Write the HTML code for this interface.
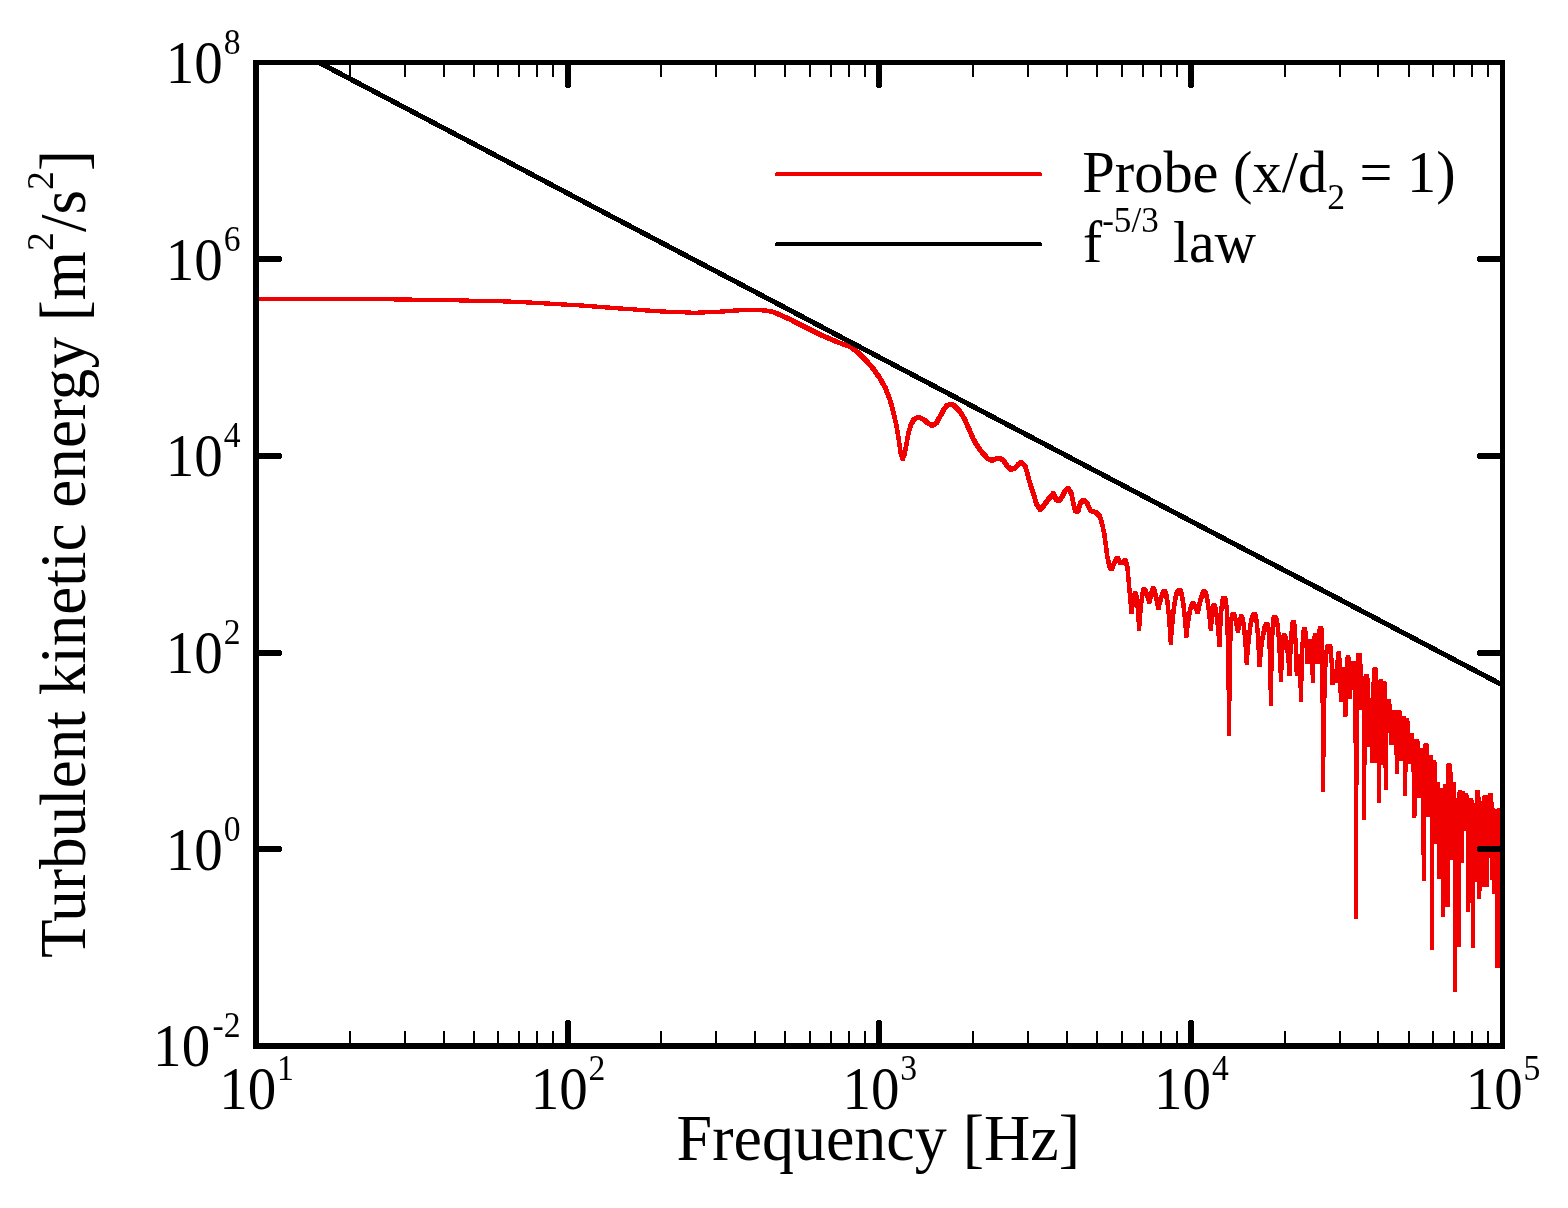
<!DOCTYPE html>
<html lang="en"><head><meta charset="utf-8"><title>Turbulent kinetic energy spectrum</title>
<style>html,body{margin:0;padding:0;background:#fff}body{width:1568px;height:1208px;overflow:hidden}svg{display:block}text{font-family:'Liberation Serif', serif;fill:#000}</style>
</head><body>
<svg width="1568" height="1208" viewBox="0 0 1568 1208" role="img" aria-label="Turbulent kinetic energy spectrum">
<rect x="0" y="0" width="1568" height="1208" fill="#fff"/>
<defs><clipPath id="plot"><rect x="253" y="60" width="1252" height="989"/></clipPath></defs>
<g clip-path="url(#plot)" fill="none" stroke-linejoin="round" stroke-linecap="butt" shape-rendering="crispEdges">
<path id="tke" d="M250.0,299.0 L340.0,299.1 L405.6,299.5 L464.3,300.5 L507.7,301.5 L529.3,302.5 L547.0,303.5 L563.8,304.5 L581.6,305.5 L594.4,306.5 L607.0,307.5 L620.0,308.5 L635.0,309.5 L648.3,310.6 L662.4,311.5 L683.1,312.3 L694.7,312.8 L706.3,312.3 L722.9,311.5 L734.5,310.6 L742.8,310.1 L749.5,309.9 L759.4,310.1 L765.2,310.6 L772.7,311.8 L781.0,315.3 L789.3,319.0 L805.8,327.3 L822.4,335.6 L839.0,342.7 L850.6,346.7 L860.0,354.3 L866.4,361.0 L872.8,368.1 L879.1,377.0 L885.5,388.2 L890.0,399.9 L893.2,411.4 L896.4,425.5 L898.9,440.8 L900.8,453.5 L902.7,458.9 L904.6,453.5 L906.6,443.3 L908.5,433.1 L911.0,424.2 L914.2,419.1 L918.7,417.3 L923.1,419.1 L927.6,422.9 L932.1,425.5 L936.5,422.9 L940.4,415.9 L944.2,408.9 L947.4,405.3 L950.6,404.0 L954.4,405.6 L959.5,410.8 L964.6,419.1 L969.1,429.3 L973.5,439.5 L977.3,445.9 L982.4,452.9 L987.6,458.6 L992.0,460.4 L996.5,458.6 L999.7,458.1 L1003.5,460.5 L1007.3,466.3 L1011.1,469.5 L1015.0,468.2 L1018.8,464.0 L1021.2,462.4 L1025.3,466.3 L1027.9,475.5 L1030.4,484.7 L1033.5,493.9 L1036.5,504.1 L1040.1,509.4 L1043.7,505.6 L1048.3,499.5 L1053.4,493.4 L1056.4,500.0 L1059.0,501.2 L1062.6,495.9 L1065.1,490.8 L1068.2,488.5 L1071.2,492.9 L1073.3,503.1 L1075.3,511.0 L1076.8,511.6 L1078.6,509.7 L1080.4,503.1 L1083.5,499.5 L1087.0,503.1 L1090.6,510.8 L1095.7,512.4 L1099.8,516.3 L1102.3,524.5 L1104.4,534.7 L1105.9,545.9 L1107.4,557.1 L1109.5,566.3 L1111.5,569.4 L1114.1,563.3 L1117.1,557.3 L1120.7,563.3 L1125.3,560.2 L1127.3,566.3 L1127.9,572.1 L1128.4,577.9 L1128.9,583.7 L1129.4,589.5 L1129.9,595.2 L1130.4,601.0 L1131.0,606.8 L1131.5,612.6 L1132.0,608.6 L1132.6,604.9 L1133.1,601.6 L1133.7,598.6 L1134.2,596.1 L1134.8,594.2 L1135.3,593.1 L1135.9,594.0 L1136.4,596.4 L1136.9,600.3 L1137.5,605.6 L1138.0,612.4 L1138.6,620.4 L1139.1,629.8 L1139.7,621.3 L1140.3,613.7 L1140.8,607.2 L1141.4,601.7 L1142.0,597.2 L1142.5,593.7 L1143.1,591.2 L1143.7,589.7 L1144.2,589.3 L1144.8,590.0 L1145.4,591.0 L1145.9,592.3 L1146.5,593.7 L1147.1,595.3 L1147.6,596.9 L1148.2,598.7 L1148.8,600.5 L1149.3,602.4 L1149.9,599.8 L1150.4,597.3 L1151.0,595.0 L1151.5,592.8 L1152.1,591.0 L1152.6,589.4 L1153.2,588.4 L1153.7,589.1 L1154.3,590.5 L1154.9,592.3 L1155.4,594.4 L1156.0,596.8 L1156.6,599.4 L1157.1,602.3 L1157.7,605.4 L1158.3,608.8 L1158.8,606.3 L1159.4,603.9 L1160.0,601.7 L1160.6,599.6 L1161.1,597.7 L1161.7,595.9 L1162.3,594.3 L1162.9,592.9 L1163.4,591.8 L1164.0,591.2 L1164.6,591.3 L1165.1,592.0 L1165.7,593.3 L1166.3,595.3 L1166.8,598.1 L1167.4,601.7 L1167.9,606.3 L1168.5,611.7 L1169.1,618.1 L1169.6,625.5 L1170.2,634.0 L1170.8,643.5 L1171.3,635.5 L1171.9,628.3 L1172.5,621.8 L1173.0,616.0 L1173.6,610.9 L1174.2,606.3 L1174.8,602.5 L1175.3,599.2 L1175.9,596.4 L1176.5,594.3 L1177.0,592.6 L1177.6,591.4 L1178.2,590.6 L1178.7,590.2 L1179.3,590.2 L1179.9,590.4 L1180.5,591.1 L1181.1,592.5 L1181.6,594.5 L1182.2,597.2 L1182.8,600.5 L1183.4,604.6 L1184.0,609.5 L1184.6,615.1 L1185.2,621.5 L1185.7,628.6 L1186.3,636.6 L1186.9,631.7 L1187.4,627.1 L1188.0,622.9 L1188.5,619.1 L1189.1,615.7 L1189.6,612.6 L1190.2,610.0 L1190.7,607.7 L1191.3,605.9 L1191.9,604.5 L1192.4,603.6 L1193.0,603.3 L1193.5,603.9 L1194.0,604.7 L1194.6,605.7 L1195.1,606.7 L1195.7,607.8 L1196.2,608.9 L1196.7,610.1 L1197.3,611.3 L1197.8,612.6 L1198.4,609.7 L1199.0,606.9 L1199.5,604.3 L1200.1,601.9 L1200.7,599.6 L1201.3,597.6 L1201.9,595.7 L1202.4,594.1 L1203.0,592.7 L1203.6,591.7 L1204.2,591.2 L1204.7,591.5 L1205.3,592.3 L1205.8,593.7 L1206.4,595.6 L1206.9,598.1 L1207.5,601.1 L1208.1,604.6 L1208.6,608.6 L1209.2,613.1 L1209.7,618.2 L1210.3,623.7 L1210.8,629.8 L1211.4,622.4 L1212.0,616.0 L1212.6,610.8 L1213.2,607.0 L1213.8,605.2 L1214.3,605.6 L1214.9,606.8 L1215.5,608.8 L1216.0,611.6 L1216.6,615.2 L1217.2,619.7 L1217.8,624.9 L1218.3,631.0 L1218.9,637.8 L1219.5,645.5 L1220.0,633.5 L1220.5,623.4 L1221.0,615.1 L1221.5,608.6 L1222.0,603.7 L1222.6,600.5 L1223.1,598.7 L1223.6,598.2 L1223.8,598.2 L1224.0,598.2 L1224.3,598.2 L1224.5,598.2 L1224.8,598.4 L1225.0,598.5 L1225.2,598.9 L1225.5,599.5 L1225.7,600.4 L1226.0,601.6 L1226.2,603.4 L1226.4,605.9 L1226.7,609.2 L1226.9,613.4 L1227.1,618.9 L1227.4,625.7 L1227.6,634.2 L1227.9,644.5 L1228.1,657.0 L1228.3,671.9 L1228.6,689.7 L1228.8,710.5 L1229.1,734.9 L1229.3,713.4 L1229.5,694.9 L1229.7,679.1 L1229.9,665.8 L1230.1,654.6 L1230.3,645.4 L1230.5,637.8 L1230.8,631.7 L1231.0,626.9 L1231.2,623.1 L1231.4,620.3 L1231.6,618.1 L1231.8,616.6 L1232.0,615.6 L1232.2,614.9 L1232.5,614.5 L1232.7,614.3 L1232.9,614.2 L1233.1,614.1 L1233.3,614.1 L1233.5,614.1 L1234.1,615.0 L1234.6,616.5 L1235.2,618.4 L1235.8,620.6 L1236.3,623.1 L1236.9,625.8 L1237.4,628.7 L1238.0,631.7 L1238.5,628.5 L1239.0,625.4 L1239.6,622.7 L1240.1,620.2 L1240.6,618.2 L1241.2,616.9 L1241.7,617.3 L1242.3,618.4 L1242.8,620.4 L1243.4,623.3 L1243.9,627.3 L1244.5,632.4 L1245.0,638.5 L1245.6,645.7 L1246.1,654.1 L1246.7,663.6 L1247.2,656.1 L1247.8,649.2 L1248.4,643.0 L1248.9,637.4 L1249.5,632.5 L1250.0,628.3 L1250.6,624.6 L1251.2,621.6 L1251.7,619.1 L1252.3,617.1 L1252.9,615.7 L1253.4,614.8 L1254.0,614.3 L1254.6,614.1 L1255.1,614.5 L1255.6,615.8 L1256.2,618.3 L1256.7,622.2 L1257.3,627.6 L1257.8,634.5 L1258.3,643.1 L1258.9,653.4 L1259.4,665.5 L1260.0,659.3 L1260.6,653.6 L1261.1,648.4 L1261.7,643.7 L1262.3,639.5 L1262.9,635.8 L1263.5,632.7 L1264.0,630.0 L1264.6,627.8 L1265.2,626.2 L1265.8,625.0 L1266.4,624.3 L1266.9,624.1 L1267.2,624.1 L1267.5,624.3 L1267.8,624.9 L1268.1,625.9 L1268.4,627.7 L1268.6,630.3 L1268.9,634.1 L1269.2,639.0 L1269.5,645.4 L1269.8,653.3 L1270.0,663.0 L1270.3,674.7 L1270.6,688.6 L1270.9,704.7 L1271.1,687.3 L1271.4,672.5 L1271.6,660.0 L1271.9,649.5 L1272.1,641.0 L1272.4,634.1 L1272.6,628.7 L1272.9,624.6 L1273.1,621.6 L1273.4,619.6 L1273.6,618.2 L1273.9,617.5 L1274.1,617.1 L1274.3,617.0 L1274.6,616.9 L1275.2,617.1 L1275.8,617.7 L1276.3,619.1 L1276.9,621.6 L1277.5,625.2 L1278.1,630.2 L1278.7,636.7 L1279.2,644.9 L1279.8,654.9 L1280.4,666.8 L1281.0,680.8 L1281.4,669.5 L1281.8,659.8 L1282.2,651.9 L1282.6,645.5 L1283.0,640.8 L1283.4,637.5 L1283.8,635.7 L1284.2,635.2 L1284.7,635.6 L1285.3,636.8 L1285.8,638.8 L1286.4,641.6 L1286.9,645.2 L1287.4,649.5 L1288.0,654.7 L1288.5,660.6 L1289.1,667.3 L1289.6,674.8 L1290.1,662.2 L1290.5,651.5 L1290.9,642.7 L1291.3,635.5 L1291.8,630.1 L1292.2,626.2 L1292.6,623.7 L1293.0,622.4 L1293.5,622.0 L1293.8,622.4 L1294.2,623.7 L1294.5,626.2 L1294.9,630.1 L1295.2,635.5 L1295.6,642.6 L1295.9,651.4 L1296.3,662.0 L1296.7,674.5 L1297.1,668.2 L1297.6,662.9 L1298.1,658.6 L1298.6,656.2 L1298.9,656.8 L1299.2,658.6 L1299.5,661.8 L1299.8,666.5 L1300.1,672.7 L1300.4,680.5 L1300.7,689.9 L1301.0,700.9 L1301.3,685.4 L1301.6,672.2 L1301.9,661.2 L1302.2,652.1 L1302.5,644.9 L1302.8,639.3 L1303.1,635.2 L1303.4,632.3 L1303.7,630.5 L1304.0,629.5 L1304.3,629.1 L1304.6,629.0 L1305.1,630.3 L1305.6,633.4 L1306.0,638.3 L1306.5,644.7 L1307.0,652.7 L1307.5,662.0 L1308.0,655.7 L1308.5,650.2 L1309.1,645.7 L1309.6,642.2 L1310.1,640.4 L1310.5,641.2 L1310.9,643.6 L1311.3,647.8 L1311.7,653.7 L1312.1,661.3 L1312.5,670.7 L1312.9,681.9 L1313.2,669.8 L1313.5,659.7 L1313.8,651.3 L1314.1,644.7 L1314.4,639.9 L1314.7,636.6 L1315.0,634.8 L1315.3,634.3 L1315.8,636.1 L1316.2,640.2 L1316.7,646.2 L1317.1,653.7 L1317.6,662.7 L1318.0,652.7 L1318.5,644.3 L1318.9,637.5 L1319.4,632.5 L1319.8,629.2 L1320.3,628.0 L1320.4,628.0 L1320.5,628.0 L1320.6,628.0 L1320.7,628.0 L1320.8,628.0 L1320.9,628.1 L1321.0,628.1 L1321.1,628.3 L1321.2,628.5 L1321.3,628.9 L1321.4,629.4 L1321.5,630.2 L1321.6,631.3 L1321.7,632.9 L1321.7,634.9 L1321.8,637.6 L1321.9,641.0 L1322.0,645.3 L1322.1,650.8 L1322.2,657.6 L1322.3,665.9 L1322.4,675.9 L1322.5,688.0 L1322.6,702.5 L1322.7,719.6 L1322.8,739.7 L1322.9,763.2 L1323.0,790.6 L1323.3,765.8 L1323.6,744.4 L1323.8,726.2 L1324.1,710.7 L1324.4,697.6 L1324.7,686.7 L1324.9,677.8 L1325.2,670.4 L1325.5,664.4 L1325.8,659.7 L1326.0,656.0 L1326.3,653.1 L1326.6,650.9 L1326.9,649.3 L1327.1,648.1 L1327.4,647.3 L1327.7,646.8 L1328.0,646.4 L1328.2,646.2 L1328.5,646.1 L1328.8,646.0 L1329.1,646.0 L1329.3,646.0 L1329.6,646.0 L1329.9,646.0 L1330.3,646.9 L1330.7,649.3 L1331.1,653.3 L1331.4,658.7 L1331.8,665.7 L1332.2,674.1 L1332.6,683.9 L1333.1,678.3 L1333.7,673.7 L1334.2,670.6 L1334.8,672.5 L1335.3,675.2 L1335.9,678.3 L1336.5,681.8 L1336.9,672.7 L1337.3,665.0 L1337.8,659.0 L1338.2,654.9 L1338.6,653.1 L1338.9,653.6 L1339.1,655.4 L1339.4,658.7 L1339.7,663.5 L1340.0,670.0 L1340.2,678.2 L1340.5,688.3 L1340.8,700.1 L1341.2,691.5 L1341.6,684.2 L1341.9,678.2 L1342.3,673.5 L1342.7,670.4 L1343.1,669.1 L1343.4,669.6 L1343.7,671.4 L1344.0,674.7 L1344.2,679.5 L1344.5,686.0 L1344.8,694.2 L1345.1,704.1 L1345.4,715.9 L1345.7,702.4 L1345.9,690.9 L1346.2,681.4 L1346.5,673.7 L1346.8,667.6 L1347.0,663.1 L1347.3,660.0 L1347.6,658.1 L1347.8,657.2 L1348.1,657.0 L1348.4,657.8 L1348.6,660.3 L1348.9,664.3 L1349.2,670.1 L1349.5,677.4 L1349.7,686.4 L1350.0,697.0 L1350.5,687.3 L1351.0,679.1 L1351.5,672.4 L1352.1,667.5 L1352.6,664.2 L1353.1,663.0 L1353.2,663.0 L1353.2,663.0 L1353.3,663.0 L1353.4,663.0 L1353.5,663.0 L1353.5,663.0 L1353.6,663.0 L1353.7,663.0 L1353.8,663.0 L1353.8,663.1 L1353.9,663.1 L1354.0,663.2 L1354.1,663.3 L1354.1,663.5 L1354.2,663.7 L1354.3,664.0 L1354.4,664.5 L1354.4,665.1 L1354.5,665.9 L1354.6,667.0 L1354.7,668.3 L1354.8,670.1 L1354.8,672.2 L1354.9,674.9 L1355.0,678.2 L1355.0,682.2 L1355.1,687.1 L1355.2,693.0 L1355.3,700.0 L1355.3,708.3 L1355.4,718.2 L1355.5,729.8 L1355.6,743.3 L1355.6,759.1 L1355.7,777.4 L1355.8,798.4 L1355.9,822.6 L1355.9,850.3 L1356.0,881.9 L1356.1,917.8 L1356.2,880.8 L1356.3,848.2 L1356.4,819.6 L1356.4,794.7 L1356.5,772.9 L1356.6,754.1 L1356.7,737.9 L1356.8,723.9 L1356.9,711.9 L1356.9,701.8 L1357.0,693.2 L1357.1,685.9 L1357.2,679.9 L1357.3,674.8 L1357.4,670.7 L1357.5,667.3 L1357.5,664.5 L1357.6,662.3 L1357.7,660.5 L1357.8,659.1 L1357.9,658.0 L1358.0,657.2 L1358.1,656.5 L1358.1,656.1 L1358.2,655.7 L1358.3,655.5 L1358.4,655.3 L1358.5,655.2 L1358.6,655.1 L1358.7,655.1 L1358.7,655.0 L1358.8,655.0 L1358.9,655.0 L1359.0,655.0 L1359.1,655.0 L1359.2,655.0 L1359.2,655.0 L1359.3,655.0 L1359.4,655.0 L1359.5,655.0 L1359.7,655.3 L1359.9,656.6 L1360.1,659.1 L1360.3,663.0 L1360.6,668.6 L1360.8,675.8 L1361.0,684.8 L1361.2,695.8 L1361.4,708.7 L1361.7,702.3 L1362.0,696.8 L1362.2,692.4 L1362.5,690.0 L1362.6,690.0 L1362.7,690.0 L1362.7,690.0 L1362.8,690.1 L1362.9,690.2 L1363.0,690.5 L1363.0,691.0 L1363.1,691.8 L1363.2,693.0 L1363.3,694.6 L1363.3,696.9 L1363.4,700.0 L1363.5,704.0 L1363.6,709.1 L1363.7,715.6 L1363.7,723.6 L1363.8,733.4 L1363.9,745.2 L1364.0,759.3 L1364.0,776.1 L1364.1,795.7 L1364.2,818.6 L1364.3,793.5 L1364.4,771.9 L1364.5,753.6 L1364.5,738.1 L1364.6,725.2 L1364.7,714.5 L1364.8,705.6 L1364.9,698.5 L1365.0,692.8 L1365.1,688.3 L1365.2,684.8 L1365.2,682.1 L1365.3,680.2 L1365.4,678.7 L1365.5,677.7 L1365.6,677.0 L1365.7,676.6 L1365.8,676.4 L1365.9,676.2 L1366.0,676.1 L1366.0,676.1 L1366.1,676.1 L1366.2,676.1 L1366.3,676.1 L1366.6,676.2 L1366.8,676.6 L1367.1,677.7 L1367.4,679.6 L1367.6,682.5 L1367.9,686.5 L1368.2,692.0 L1368.4,698.9 L1368.7,707.6 L1369.0,718.0 L1369.2,730.5 L1369.5,745.0 L1369.7,733.9 L1369.9,724.4 L1370.1,716.6 L1370.2,710.3 L1370.4,705.6 L1370.6,702.4 L1370.8,700.5 L1371.0,700.0 L1371.1,700.1 L1371.3,700.8 L1371.4,702.3 L1371.5,704.7 L1371.7,708.3 L1371.8,713.2 L1372.0,719.5 L1372.1,727.4 L1372.2,737.0 L1372.4,748.4 L1372.5,761.6 L1372.7,743.8 L1372.8,728.5 L1373.0,715.6 L1373.1,704.8 L1373.3,695.8 L1373.4,688.6 L1373.6,682.9 L1373.8,678.4 L1373.9,675.1 L1374.1,672.7 L1374.2,671.1 L1374.4,670.0 L1374.5,669.5 L1374.7,669.2 L1374.8,669.1 L1375.0,669.1 L1375.1,669.1 L1375.2,669.2 L1375.4,669.5 L1375.5,670.0 L1375.6,671.1 L1375.8,672.7 L1375.9,675.1 L1376.0,678.4 L1376.1,682.9 L1376.2,688.6 L1376.4,695.8 L1376.5,704.8 L1376.6,715.6 L1376.8,728.5 L1376.9,743.8 L1377.0,761.6 L1377.1,748.4 L1377.2,737.0 L1377.3,727.4 L1377.4,719.5 L1377.5,713.2 L1377.5,708.3 L1377.6,704.7 L1377.7,702.3 L1377.8,700.8 L1377.9,700.1 L1378.0,700.0 L1378.1,700.0 L1378.1,700.1 L1378.2,700.2 L1378.2,700.6 L1378.3,701.3 L1378.4,702.5 L1378.4,704.4 L1378.5,707.0 L1378.5,710.7 L1378.6,715.5 L1378.6,721.8 L1378.7,729.6 L1378.8,739.3 L1378.8,751.1 L1378.9,765.3 L1378.9,782.1 L1379.0,801.8 L1379.1,780.3 L1379.2,761.8 L1379.3,746.0 L1379.4,732.7 L1379.5,721.5 L1379.6,712.2 L1379.7,704.7 L1379.8,698.6 L1379.9,693.7 L1380.0,690.0 L1380.0,687.1 L1380.1,685.0 L1380.2,683.5 L1380.3,682.5 L1380.4,681.8 L1380.5,681.4 L1380.6,681.2 L1380.7,681.0 L1380.8,681.0 L1380.9,681.0 L1381.0,681.0 L1381.1,681.0 L1381.2,681.2 L1381.3,681.7 L1381.4,682.8 L1381.5,684.5 L1381.6,687.2 L1381.7,690.9 L1381.7,695.9 L1381.8,702.3 L1381.9,710.4 L1382.0,720.3 L1382.1,732.2 L1382.2,746.4 L1382.3,763.0 L1382.4,747.1 L1382.5,733.4 L1382.7,721.8 L1382.8,712.2 L1382.9,704.3 L1383.0,697.9 L1383.2,693.0 L1383.3,689.3 L1383.4,686.6 L1383.5,684.9 L1383.6,683.8 L1383.8,683.2 L1383.9,683.0 L1384.0,683.0 L1384.1,683.0 L1384.2,683.0 L1384.3,683.2 L1384.4,683.4 L1384.5,684.0 L1384.6,684.9 L1384.7,686.4 L1384.8,688.5 L1384.8,691.5 L1384.9,695.4 L1385.0,700.6 L1385.1,707.1 L1385.2,715.3 L1385.3,725.3 L1385.4,737.4 L1385.5,751.9 L1385.6,768.9 L1385.7,788.8 L1385.9,771.4 L1386.1,756.6 L1386.3,744.0 L1386.4,733.6 L1386.6,725.0 L1386.8,718.2 L1387.0,712.8 L1387.2,708.7 L1387.4,705.7 L1387.6,703.6 L1387.8,702.3 L1387.9,701.5 L1388.1,701.1 L1388.3,701.0 L1388.5,701.0 L1388.9,701.6 L1389.2,703.4 L1389.6,706.6 L1390.0,711.2 L1390.4,717.2 L1390.8,724.6 L1391.1,733.4 L1391.5,743.7 L1392.0,734.9 L1392.5,727.3 L1393.0,721.2 L1393.5,716.4 L1394.0,713.3 L1394.5,712.0 L1394.7,712.1 L1394.9,712.8 L1395.2,714.3 L1395.4,716.8 L1395.6,720.3 L1395.8,725.2 L1396.0,731.5 L1396.2,739.2 L1396.5,748.6 L1396.7,759.8 L1396.9,772.7 L1397.1,759.8 L1397.3,748.6 L1397.6,739.2 L1397.8,731.5 L1398.0,725.2 L1398.2,720.3 L1398.4,716.8 L1398.6,714.3 L1398.9,712.8 L1399.1,712.1 L1399.3,712.0 L1399.5,712.5 L1399.8,714.3 L1400.0,717.6 L1400.2,722.4 L1400.5,729.0 L1400.7,737.4 L1401.0,747.7 L1401.2,759.8 L1401.5,748.5 L1401.9,739.0 L1402.2,731.3 L1402.5,725.4 L1402.8,721.2 L1403.2,718.8 L1403.5,718.0 L1403.6,718.0 L1403.8,718.3 L1403.9,719.1 L1404.0,720.5 L1404.2,722.7 L1404.3,726.0 L1404.4,730.6 L1404.5,736.6 L1404.7,744.2 L1404.8,753.7 L1404.9,765.2 L1405.1,778.8 L1405.2,794.8 L1405.3,779.4 L1405.5,766.3 L1405.6,755.2 L1405.8,746.0 L1405.9,738.6 L1406.0,732.7 L1406.2,728.1 L1406.3,724.8 L1406.4,722.5 L1406.6,721.1 L1406.7,720.3 L1406.9,720.0 L1407.0,720.0 L1407.2,720.6 L1407.5,722.4 L1407.8,725.6 L1408.0,730.2 L1408.2,736.1 L1408.5,743.4 L1408.8,752.1 L1409.0,762.2 L1409.4,753.7 L1409.8,746.5 L1410.2,740.8 L1410.6,736.8 L1411.0,735.0 L1411.2,735.0 L1411.5,735.2 L1411.7,735.8 L1412.0,736.8 L1412.2,738.6 L1412.5,741.2 L1412.7,744.9 L1412.9,749.9 L1413.2,756.3 L1413.4,764.4 L1413.7,774.2 L1413.9,786.2 L1414.2,800.3 L1414.4,816.8 L1414.6,801.1 L1414.8,787.7 L1415.0,776.5 L1415.2,767.1 L1415.4,759.6 L1415.6,753.6 L1415.8,749.1 L1416.0,745.8 L1416.2,743.5 L1416.4,742.1 L1416.6,741.3 L1416.8,741.0 L1417.0,741.0 L1417.2,741.2 L1417.4,742.2 L1417.6,744.1 L1417.8,747.2 L1418.0,751.6 L1418.2,757.4 L1418.4,764.7 L1418.6,773.7 L1418.8,784.3 L1419.0,796.7 L1419.2,785.0 L1419.5,775.0 L1419.8,766.9 L1420.0,760.4 L1420.2,755.6 L1420.5,752.3 L1420.8,750.5 L1421.0,750.0 L1421.1,750.0 L1421.2,750.0 L1421.4,750.0 L1421.5,750.1 L1421.6,750.2 L1421.7,750.5 L1421.9,751.0 L1422.0,751.8 L1422.1,752.9 L1422.2,754.6 L1422.3,756.8 L1422.5,759.9 L1422.6,763.9 L1422.7,769.1 L1422.8,775.5 L1423.0,783.6 L1423.1,793.4 L1423.2,805.4 L1423.3,819.7 L1423.5,836.6 L1423.6,856.5 L1423.7,879.8 L1423.8,856.0 L1423.9,835.6 L1424.0,818.2 L1424.2,803.5 L1424.3,791.2 L1424.4,781.0 L1424.5,772.6 L1424.6,765.8 L1424.7,760.4 L1424.8,756.1 L1424.9,752.9 L1425.1,750.4 L1425.2,748.5 L1425.3,747.2 L1425.4,746.3 L1425.5,745.7 L1425.6,745.4 L1425.7,745.2 L1425.8,745.1 L1426.0,745.0 L1426.1,745.0 L1426.2,745.0 L1426.3,745.0 L1426.4,745.1 L1426.6,745.5 L1426.7,746.5 L1426.9,748.4 L1427.0,751.3 L1427.2,755.4 L1427.3,760.9 L1427.4,768.0 L1427.6,776.8 L1427.7,787.6 L1427.9,800.4 L1428.0,815.5 L1428.2,802.1 L1428.4,790.8 L1428.7,781.3 L1428.9,773.6 L1429.1,767.6 L1429.3,763.1 L1429.5,760.0 L1429.8,758.1 L1430.0,757.2 L1430.2,757.0 L1430.3,757.0 L1430.3,757.0 L1430.4,757.0 L1430.4,757.0 L1430.5,757.0 L1430.5,757.0 L1430.6,757.0 L1430.7,757.1 L1430.7,757.1 L1430.8,757.2 L1430.8,757.4 L1430.9,757.7 L1430.9,758.0 L1431.0,758.6 L1431.0,759.4 L1431.1,760.5 L1431.2,761.9 L1431.2,763.8 L1431.3,766.4 L1431.3,769.6 L1431.4,773.7 L1431.4,778.9 L1431.5,785.3 L1431.5,793.2 L1431.6,802.9 L1431.7,814.6 L1431.7,828.7 L1431.8,845.5 L1431.8,865.4 L1431.9,889.0 L1431.9,916.6 L1432.0,948.8 L1432.1,918.0 L1432.1,891.6 L1432.2,868.9 L1432.2,849.6 L1432.3,833.3 L1432.4,819.6 L1432.4,808.1 L1432.5,798.6 L1432.6,790.7 L1432.6,784.3 L1432.7,779.1 L1432.8,775.0 L1432.8,771.7 L1432.9,769.2 L1432.9,767.2 L1433.0,765.7 L1433.1,764.5 L1433.1,763.7 L1433.2,763.1 L1433.2,762.7 L1433.3,762.4 L1433.4,762.3 L1433.4,762.1 L1433.5,762.1 L1433.6,762.0 L1433.6,762.0 L1433.7,762.0 L1433.8,762.0 L1433.8,762.0 L1433.9,762.0 L1433.9,762.0 L1434.0,762.0 L1434.1,762.0 L1434.2,762.2 L1434.4,762.8 L1434.5,763.8 L1434.6,765.6 L1434.7,768.3 L1434.8,772.0 L1435.0,776.9 L1435.1,783.3 L1435.2,791.2 L1435.3,801.0 L1435.5,812.7 L1435.6,826.6 L1435.7,842.8 L1435.9,829.3 L1436.1,817.9 L1436.2,808.4 L1436.4,800.6 L1436.6,794.6 L1436.8,790.1 L1437.0,787.0 L1437.1,785.1 L1437.3,784.2 L1437.5,784.0 L1437.6,784.0 L1437.8,784.1 L1437.9,784.3 L1438.0,784.9 L1438.1,785.9 L1438.2,787.5 L1438.4,789.9 L1438.5,793.2 L1438.6,797.7 L1438.8,803.5 L1438.9,810.8 L1439.0,819.8 L1439.1,830.8 L1439.2,844.0 L1439.4,859.5 L1439.5,877.7 L1439.6,860.4 L1439.8,845.5 L1439.9,833.0 L1440.0,822.6 L1440.2,814.0 L1440.3,807.2 L1440.4,801.8 L1440.6,797.7 L1440.7,794.7 L1440.8,792.6 L1441.0,791.3 L1441.1,790.5 L1441.2,790.1 L1441.4,790.0 L1441.5,790.0 L1441.6,790.0 L1441.7,790.0 L1441.8,790.0 L1441.9,790.1 L1442.0,790.3 L1442.0,790.7 L1442.1,791.3 L1442.2,792.3 L1442.3,793.7 L1442.4,795.8 L1442.5,798.6 L1442.6,802.4 L1442.7,807.2 L1442.8,813.4 L1442.9,821.2 L1442.9,830.8 L1443.0,842.4 L1443.1,856.4 L1443.2,873.1 L1443.3,892.8 L1443.4,915.9 L1443.5,892.6 L1443.6,872.7 L1443.7,855.7 L1443.8,841.4 L1443.9,829.5 L1444.0,819.6 L1444.1,811.5 L1444.2,805.0 L1444.3,799.9 L1444.4,795.9 L1444.5,792.8 L1444.5,790.6 L1444.6,788.9 L1444.7,787.8 L1444.8,787.0 L1444.9,786.5 L1445.0,786.2 L1445.1,786.1 L1445.2,786.0 L1445.3,786.0 L1445.4,786.0 L1445.5,786.0 L1445.6,786.0 L1445.7,786.0 L1445.8,786.1 L1445.9,786.2 L1446.0,786.5 L1446.1,787.0 L1446.2,787.8 L1446.3,789.1 L1446.4,790.9 L1446.5,793.5 L1446.6,797.0 L1446.7,801.6 L1446.8,807.4 L1446.9,814.8 L1447.0,824.0 L1447.1,835.1 L1447.2,848.6 L1447.3,864.6 L1447.4,883.6 L1447.5,905.8 L1447.6,881.2 L1447.6,860.1 L1447.7,842.1 L1447.8,826.9 L1447.8,814.2 L1447.9,803.6 L1447.9,794.8 L1448.0,787.7 L1448.1,782.0 L1448.1,777.5 L1448.2,774.0 L1448.2,771.3 L1448.3,769.4 L1448.4,767.9 L1448.4,766.9 L1448.5,766.2 L1448.6,765.7 L1448.6,765.5 L1448.7,765.3 L1448.8,765.2 L1448.8,765.2 L1448.9,765.2 L1448.9,765.2 L1449.0,765.2 L1449.2,765.2 L1449.4,765.3 L1449.6,765.6 L1449.8,766.1 L1449.9,767.1 L1450.1,768.8 L1450.3,771.1 L1450.5,774.5 L1450.7,778.9 L1450.9,784.7 L1451.1,792.0 L1451.2,801.0 L1451.4,811.9 L1451.6,825.0 L1451.8,840.4 L1452.0,858.5 L1452.1,843.2 L1452.2,830.2 L1452.3,819.2 L1452.4,810.0 L1452.5,802.6 L1452.6,796.7 L1452.7,792.1 L1452.8,788.8 L1452.9,786.6 L1453.0,785.1 L1453.1,784.4 L1453.2,784.0 L1453.3,784.0 L1453.3,784.0 L1453.4,784.0 L1453.4,784.0 L1453.5,784.0 L1453.5,784.0 L1453.6,784.0 L1453.6,784.0 L1453.7,784.0 L1453.7,784.1 L1453.8,784.1 L1453.8,784.2 L1453.8,784.3 L1453.9,784.5 L1453.9,784.8 L1454.0,785.3 L1454.0,785.9 L1454.1,786.7 L1454.1,787.8 L1454.2,789.3 L1454.2,791.2 L1454.3,793.6 L1454.3,796.7 L1454.4,800.6 L1454.4,805.4 L1454.4,811.4 L1454.5,818.6 L1454.5,827.4 L1454.6,838.0 L1454.6,850.7 L1454.7,865.7 L1454.7,883.5 L1454.8,904.3 L1454.8,928.7 L1454.9,957.1 L1454.9,990.0 L1455.0,958.3 L1455.0,931.1 L1455.1,907.9 L1455.1,888.2 L1455.2,871.5 L1455.2,857.6 L1455.2,846.0 L1455.3,836.3 L1455.4,828.4 L1455.4,822.0 L1455.5,816.9 L1455.5,812.7 L1455.5,809.5 L1455.6,806.9 L1455.7,805.0 L1455.7,803.5 L1455.8,802.4 L1455.8,801.6 L1455.9,801.1 L1455.9,800.7 L1456.0,800.4 L1456.0,800.2 L1456.0,800.1 L1456.1,800.1 L1456.2,800.0 L1456.2,800.0 L1456.2,800.0 L1456.3,800.0 L1456.3,800.0 L1456.4,800.0 L1456.5,800.0 L1456.5,800.0 L1456.6,800.0 L1456.7,800.0 L1456.8,800.0 L1456.8,800.0 L1456.9,800.1 L1457.0,800.2 L1457.1,800.4 L1457.2,800.7 L1457.3,801.3 L1457.3,802.1 L1457.4,803.3 L1457.5,804.9 L1457.6,807.0 L1457.7,809.9 L1457.8,813.7 L1457.8,818.4 L1457.9,824.4 L1458.0,831.7 L1458.1,840.8 L1458.2,851.7 L1458.3,864.7 L1458.3,880.3 L1458.4,898.6 L1458.5,920.1 L1458.6,945.0 L1458.7,918.6 L1458.7,896.0 L1458.8,876.7 L1458.8,860.3 L1458.9,846.6 L1459.0,835.1 L1459.0,825.7 L1459.1,817.9 L1459.2,811.7 L1459.2,806.7 L1459.3,802.8 L1459.3,799.7 L1459.4,797.4 L1459.5,795.7 L1459.5,794.4 L1459.6,793.5 L1459.6,792.9 L1459.7,792.5 L1459.8,792.3 L1459.8,792.1 L1459.9,792.1 L1460.0,792.0 L1460.0,792.0 L1460.1,792.0 L1460.1,792.0 L1460.2,792.0 L1460.3,792.1 L1460.4,792.5 L1460.5,793.6 L1460.6,795.5 L1460.7,798.3 L1460.8,802.4 L1461.0,807.9 L1461.1,814.9 L1461.2,823.5 L1461.3,834.0 L1461.4,846.4 L1461.5,861.0 L1461.6,846.8 L1461.7,834.6 L1461.8,824.3 L1461.8,815.8 L1461.9,808.9 L1462.0,803.5 L1462.1,799.4 L1462.2,796.5 L1462.2,794.6 L1462.3,793.5 L1462.4,793.1 L1462.5,793.0 L1462.6,793.9 L1462.8,796.3 L1462.9,800.2 L1463.1,805.6 L1463.2,812.3 L1463.4,820.4 L1463.5,829.8 L1463.8,819.7 L1464.2,811.3 L1464.5,804.5 L1464.8,799.5 L1465.2,796.2 L1465.5,795.0 L1465.6,795.0 L1465.8,795.0 L1465.9,795.1 L1466.1,795.2 L1466.2,795.5 L1466.4,796.1 L1466.5,796.9 L1466.7,798.3 L1466.8,800.2 L1467.0,802.8 L1467.1,806.3 L1467.2,810.8 L1467.4,816.6 L1467.5,823.9 L1467.7,832.8 L1467.8,843.6 L1468.0,856.5 L1468.1,871.9 L1468.3,889.9 L1468.4,910.9 L1468.5,890.4 L1468.6,872.9 L1468.7,858.0 L1468.8,845.5 L1469.0,835.0 L1469.1,826.5 L1469.2,819.6 L1469.3,814.1 L1469.4,809.8 L1469.5,806.6 L1469.6,804.2 L1469.7,802.6 L1469.8,801.4 L1469.9,800.7 L1470.1,800.3 L1470.2,800.1 L1470.3,800.0 L1470.4,800.0 L1470.5,800.0 L1470.6,800.0 L1470.7,800.0 L1470.8,800.0 L1470.9,800.0 L1471.0,800.1 L1471.1,800.2 L1471.2,800.4 L1471.3,800.7 L1471.4,801.2 L1471.5,802.0 L1471.6,803.2 L1471.7,804.8 L1471.8,806.9 L1471.9,809.8 L1472.0,813.5 L1472.1,818.3 L1472.2,824.2 L1472.3,831.7 L1472.4,840.7 L1472.5,851.8 L1472.6,865.0 L1472.7,880.8 L1472.8,899.5 L1472.9,921.4 L1473.0,946.9 L1473.1,921.9 L1473.2,900.5 L1473.3,882.3 L1473.4,866.9 L1473.5,854.0 L1473.6,843.4 L1473.7,834.6 L1473.8,827.4 L1473.9,821.7 L1474.0,817.2 L1474.1,813.7 L1474.2,811.1 L1474.4,809.1 L1474.5,807.6 L1474.6,806.6 L1474.7,806.0 L1474.8,805.5 L1474.9,805.3 L1475.0,805.1 L1475.1,805.0 L1475.2,805.0 L1475.3,805.0 L1475.4,805.0 L1475.5,805.0 L1475.6,805.0 L1475.7,805.3 L1475.7,806.1 L1475.8,807.5 L1475.9,809.8 L1476.0,813.1 L1476.0,817.7 L1476.1,823.6 L1476.2,831.1 L1476.3,840.3 L1476.3,851.4 L1476.4,864.6 L1476.5,880.0 L1476.6,862.6 L1476.6,847.7 L1476.7,835.1 L1476.8,824.6 L1476.9,816.0 L1476.9,809.2 L1477.0,803.8 L1477.1,799.7 L1477.2,796.7 L1477.2,794.6 L1477.3,793.3 L1477.4,792.5 L1477.5,792.1 L1477.5,792.0 L1477.6,792.0 L1477.7,792.0 L1477.8,792.0 L1477.9,792.2 L1478.0,792.4 L1478.1,793.0 L1478.2,793.9 L1478.3,795.4 L1478.4,797.5 L1478.5,800.5 L1478.6,804.4 L1478.7,809.6 L1478.8,816.1 L1478.9,824.3 L1479.0,834.3 L1479.1,846.4 L1479.2,860.9 L1479.3,877.9 L1479.4,897.8 L1479.5,879.1 L1479.7,863.2 L1479.8,849.8 L1479.9,838.6 L1480.1,829.4 L1480.2,822.0 L1480.3,816.2 L1480.5,811.7 L1480.6,808.4 L1480.7,806.1 L1480.8,804.5 L1481.0,803.5 L1481.1,802.9 L1481.2,802.7 L1481.4,802.6 L1481.5,802.6 L1481.6,802.6 L1481.7,802.8 L1481.8,803.3 L1481.9,804.4 L1482.0,806.1 L1482.1,808.8 L1482.2,812.5 L1482.4,817.5 L1482.5,823.9 L1482.6,832.0 L1482.7,842.0 L1482.8,854.0 L1482.9,868.3 L1483.0,885.0 L1483.1,867.6 L1483.3,852.7 L1483.4,840.1 L1483.5,829.6 L1483.7,821.0 L1483.8,814.2 L1483.9,808.8 L1484.1,804.7 L1484.2,801.7 L1484.3,799.6 L1484.5,798.3 L1484.6,797.5 L1484.7,797.1 L1484.9,797.0 L1485.0,797.0 L1485.1,797.0 L1485.2,797.1 L1485.3,797.5 L1485.4,798.3 L1485.5,799.6 L1485.6,801.7 L1485.7,804.7 L1485.8,808.8 L1485.9,814.2 L1486.0,821.0 L1486.1,829.6 L1486.2,840.1 L1486.3,852.7 L1486.4,867.6 L1486.5,885.0 L1486.6,867.6 L1486.7,852.7 L1486.8,840.1 L1486.9,829.6 L1487.0,821.0 L1487.1,814.2 L1487.2,808.8 L1487.3,804.7 L1487.4,801.7 L1487.5,799.6 L1487.6,798.3 L1487.7,797.5 L1487.8,797.1 L1487.9,797.0 L1488.0,797.0 L1488.1,797.2 L1488.2,798.1 L1488.2,800.0 L1488.3,803.1 L1488.4,807.6 L1488.5,813.7 L1488.6,821.4 L1488.6,831.0 L1488.7,842.5 L1488.8,856.0 L1489.0,843.0 L1489.1,831.8 L1489.3,822.3 L1489.4,814.5 L1489.6,808.2 L1489.7,803.3 L1489.9,799.7 L1490.0,797.3 L1490.2,795.8 L1490.3,795.1 L1490.5,795.0 L1490.6,795.0 L1490.8,795.2 L1490.9,795.7 L1491.0,796.8 L1491.2,798.5 L1491.3,801.1 L1491.5,804.8 L1491.6,809.8 L1491.7,816.3 L1491.9,824.5 L1492.0,834.6 L1492.1,846.8 L1492.3,861.3 L1492.4,878.3 L1492.5,864.0 L1492.6,851.7 L1492.6,841.3 L1492.7,832.8 L1492.8,825.9 L1492.8,820.5 L1492.9,816.4 L1493.0,813.5 L1493.1,811.6 L1493.2,810.5 L1493.2,810.1 L1493.3,810.0 L1493.3,810.0 L1493.4,810.2 L1493.5,810.7 L1493.5,811.8 L1493.5,813.5 L1493.6,816.1 L1493.7,819.9 L1493.7,824.9 L1493.8,831.3 L1493.8,839.5 L1493.8,849.5 L1493.9,861.5 L1494.0,875.9 L1494.0,892.7 L1494.1,876.3 L1494.2,862.4 L1494.3,850.7 L1494.5,841.1 L1494.6,833.3 L1494.7,827.3 L1494.8,822.7 L1494.9,819.4 L1495.0,817.1 L1495.2,815.7 L1495.3,815.0 L1495.4,814.7 L1495.5,814.7 L1495.6,814.7 L1495.7,814.7 L1495.7,814.7 L1495.8,814.7 L1495.9,814.8 L1496.0,814.8 L1496.0,815.0 L1496.1,815.2 L1496.2,815.6 L1496.3,816.3 L1496.3,817.2 L1496.4,818.4 L1496.5,820.2 L1496.6,822.5 L1496.7,825.6 L1496.7,829.5 L1496.8,834.5 L1496.9,840.7 L1497.0,848.4 L1497.0,857.8 L1497.1,869.2 L1497.2,882.9 L1497.3,899.1 L1497.3,918.2 L1497.4,940.5 L1497.5,966.6 L1497.6,940.1 L1497.6,917.3 L1497.7,897.8 L1497.7,881.2 L1497.8,867.2 L1497.8,855.5 L1497.9,845.8 L1497.9,837.8 L1498.0,831.3 L1498.1,826.1 L1498.1,822.0 L1498.2,818.7 L1498.2,816.2 L1498.3,814.3 L1498.3,812.9 L1498.4,811.9 L1498.4,811.2 L1498.5,810.7 L1498.6,810.4 L1498.6,810.2 L1498.7,810.1 L1498.7,810.0 L1498.8,810.0 L1498.8,810.0 L1498.9,810.0 L1498.9,810.0 L1499.0,810.0 L1499.1,816.0 L1499.3,822.0 L1499.4,828.0 L1499.5,834.0 L1499.7,840.0 L1499.8,846.0 L1499.9,852.0 L1500.1,858.0 L1500.2,864.0 L1500.3,870.0 L1500.5,876.0 L1500.6,882.0 L1500.7,888.0 L1500.9,894.0 L1501.0,900.0" stroke="#f00000" stroke-width="1.15" stroke-linejoin="miter" stroke-miterlimit="2"/>
<use href="#tke" x="-1.5" y="-1.5"/>
<use href="#tke" x="-1.5" y="-0.5"/>
<use href="#tke" x="-1.5" y="0.5"/>
<use href="#tke" x="-1.5" y="1.5"/>
<use href="#tke" x="-0.5" y="-1.5"/>
<use href="#tke" x="-0.5" y="-0.5"/>
<use href="#tke" x="-0.5" y="0.5"/>
<use href="#tke" x="-0.5" y="1.5"/>
<use href="#tke" x="0.5" y="-1.5"/>
<use href="#tke" x="0.5" y="-0.5"/>
<use href="#tke" x="0.5" y="0.5"/>
<use href="#tke" x="0.5" y="1.5"/>
<use href="#tke" x="1.5" y="-1.5"/>
<use href="#tke" x="1.5" y="-0.5"/>
<use href="#tke" x="1.5" y="0.5"/>
<use href="#tke" x="1.5" y="1.5"/>
<path d="M240.00,20.97 L1510.00,689.00" stroke="#000" stroke-width="5.1"/>
</g>
<g fill="#000" shape-rendering="crispEdges">
<rect x="253" y="60" width="1252" height="5"/>
<rect x="253" y="1043" width="1252" height="6"/>
<rect x="253" y="60" width="6" height="989"/>
<rect x="1500" y="60" width="5" height="989"/>
<rect x="349" y="65" width="2" height="12"/>
<rect x="349" y="1031" width="2" height="12"/>
<rect x="404" y="65" width="2" height="12"/>
<rect x="404" y="1031" width="2" height="12"/>
<rect x="443" y="65" width="2" height="12"/>
<rect x="443" y="1031" width="2" height="12"/>
<rect x="473" y="65" width="2" height="12"/>
<rect x="473" y="1031" width="2" height="12"/>
<rect x="497" y="65" width="2" height="12"/>
<rect x="497" y="1031" width="2" height="12"/>
<rect x="518" y="65" width="2" height="12"/>
<rect x="518" y="1031" width="2" height="12"/>
<rect x="536" y="65" width="2" height="12"/>
<rect x="536" y="1031" width="2" height="12"/>
<rect x="552" y="65" width="2" height="12"/>
<rect x="552" y="1031" width="2" height="12"/>
<rect x="565" y="65" width="6" height="22"/>
<rect x="566" y="65" width="4" height="23"/>
<rect x="565" y="1021" width="6" height="22"/>
<rect x="566" y="1020" width="4" height="23"/>
<rect x="660" y="65" width="2" height="12"/>
<rect x="660" y="1031" width="2" height="12"/>
<rect x="715" y="65" width="2" height="12"/>
<rect x="715" y="1031" width="2" height="12"/>
<rect x="754" y="65" width="2" height="12"/>
<rect x="754" y="1031" width="2" height="12"/>
<rect x="784" y="65" width="2" height="12"/>
<rect x="784" y="1031" width="2" height="12"/>
<rect x="809" y="65" width="2" height="12"/>
<rect x="809" y="1031" width="2" height="12"/>
<rect x="830" y="65" width="2" height="12"/>
<rect x="830" y="1031" width="2" height="12"/>
<rect x="848" y="65" width="2" height="12"/>
<rect x="848" y="1031" width="2" height="12"/>
<rect x="864" y="65" width="2" height="12"/>
<rect x="864" y="1031" width="2" height="12"/>
<rect x="876" y="65" width="6" height="22"/>
<rect x="877" y="65" width="4" height="23"/>
<rect x="876" y="1021" width="6" height="22"/>
<rect x="877" y="1020" width="4" height="23"/>
<rect x="972" y="65" width="2" height="12"/>
<rect x="972" y="1031" width="2" height="12"/>
<rect x="1027" y="65" width="2" height="12"/>
<rect x="1027" y="1031" width="2" height="12"/>
<rect x="1066" y="65" width="2" height="12"/>
<rect x="1066" y="1031" width="2" height="12"/>
<rect x="1096" y="65" width="2" height="12"/>
<rect x="1096" y="1031" width="2" height="12"/>
<rect x="1121" y="65" width="2" height="12"/>
<rect x="1121" y="1031" width="2" height="12"/>
<rect x="1142" y="65" width="2" height="12"/>
<rect x="1142" y="1031" width="2" height="12"/>
<rect x="1160" y="65" width="2" height="12"/>
<rect x="1160" y="1031" width="2" height="12"/>
<rect x="1176" y="65" width="2" height="12"/>
<rect x="1176" y="1031" width="2" height="12"/>
<rect x="1188" y="65" width="6" height="22"/>
<rect x="1189" y="65" width="4" height="23"/>
<rect x="1188" y="1021" width="6" height="22"/>
<rect x="1189" y="1020" width="4" height="23"/>
<rect x="1284" y="65" width="2" height="12"/>
<rect x="1284" y="1031" width="2" height="12"/>
<rect x="1339" y="65" width="2" height="12"/>
<rect x="1339" y="1031" width="2" height="12"/>
<rect x="1377" y="65" width="2" height="12"/>
<rect x="1377" y="1031" width="2" height="12"/>
<rect x="1408" y="65" width="2" height="12"/>
<rect x="1408" y="1031" width="2" height="12"/>
<rect x="1432" y="65" width="2" height="12"/>
<rect x="1432" y="1031" width="2" height="12"/>
<rect x="1453" y="65" width="2" height="12"/>
<rect x="1453" y="1031" width="2" height="12"/>
<rect x="1471" y="65" width="2" height="12"/>
<rect x="1471" y="1031" width="2" height="12"/>
<rect x="1487" y="65" width="2" height="12"/>
<rect x="1487" y="1031" width="2" height="12"/>
<rect x="259" y="256" width="22" height="6"/>
<rect x="259" y="257" width="23" height="4"/>
<rect x="1478" y="256" width="22" height="6"/>
<rect x="1477" y="257" width="23" height="4"/>
<rect x="259" y="453" width="22" height="6"/>
<rect x="259" y="454" width="23" height="4"/>
<rect x="1478" y="453" width="22" height="6"/>
<rect x="1477" y="454" width="23" height="4"/>
<rect x="259" y="650" width="22" height="6"/>
<rect x="259" y="651" width="23" height="4"/>
<rect x="1478" y="650" width="22" height="6"/>
<rect x="1477" y="651" width="23" height="4"/>
<rect x="259" y="846" width="22" height="6"/>
<rect x="259" y="847" width="23" height="4"/>
<rect x="1478" y="846" width="22" height="6"/>
<rect x="1477" y="847" width="23" height="4"/>
</g>
<g shape-rendering="crispEdges">
<rect x="776" y="172" width="265" height="4" fill="#f00000"/><rect x="775" y="173" width="267" height="3" fill="#f00000"/>
<rect x="776" y="242" width="265" height="4" fill="#000"/><rect x="775" y="243" width="267" height="3" fill="#000"/>
</g>
<g>
<text transform="translate(240.5,82.9) scale(0.935,1)" text-anchor="end" font-size="61">10<tspan font-size="36" dy="-29" dx="0.9">8</tspan></text>
<text transform="translate(240.5,279.6) scale(0.935,1)" text-anchor="end" font-size="61">10<tspan font-size="36" dy="-29" dx="0.9">6</tspan></text>
<text transform="translate(240.5,476.3) scale(0.935,1)" text-anchor="end" font-size="61">10<tspan font-size="36" dy="-29" dx="0.9">4</tspan></text>
<text transform="translate(240.5,673.0) scale(0.935,1)" text-anchor="end" font-size="61">10<tspan font-size="36" dy="-29" dx="0.9">2</tspan></text>
<text transform="translate(240.5,869.7) scale(0.935,1)" text-anchor="end" font-size="61">10<tspan font-size="36" dy="-29" dx="0.9">0</tspan></text>
<text transform="translate(240.5,1066.4) scale(0.935,1)" text-anchor="end" font-size="61">10<tspan font-size="36" dy="-29" dx="2.5">-2</tspan></text>
<text transform="translate(256.5,1109.0) scale(0.935,1)" text-anchor="middle" font-size="61">10<tspan font-size="36" dy="-29" dx="0.9">1</tspan></text>
<text transform="translate(568.1,1109.0) scale(0.935,1)" text-anchor="middle" font-size="61">10<tspan font-size="36" dy="-29" dx="0.9">2</tspan></text>
<text transform="translate(879.8,1109.0) scale(0.935,1)" text-anchor="middle" font-size="61">10<tspan font-size="36" dy="-29" dx="0.9">3</tspan></text>
<text transform="translate(1191.4,1109.0) scale(0.935,1)" text-anchor="middle" font-size="61">10<tspan font-size="36" dy="-29" dx="0.9">4</tspan></text>
<text transform="translate(1503.0,1109.0) scale(0.935,1)" text-anchor="middle" font-size="61">10<tspan font-size="36" dy="-29" dx="0.9">5</tspan></text>
</g>
<text transform="translate(878.3,1160) scale(0.985,1)" text-anchor="middle" font-size="65">Frequency [Hz]</text>
<text transform="translate(85.2,554) rotate(-90) scale(0.972,1)" text-anchor="middle" font-size="65">Turbulent kinetic energy [m<tspan font-size="39" dy="-32.2">2</tspan><tspan dy="32.2">/s</tspan><tspan font-size="39" dy="-32.2">2</tspan><tspan dy="32.2">]</tspan></text>
<text transform="translate(1082.3,192) scale(0.9895,1)" font-size="59">Probe (x/d<tspan font-size="36" dy="17">2</tspan><tspan dy="-17"> = 1)</tspan></text>
<text transform="translate(1083,262) scale(0.975,1)" font-size="59">f<tspan font-size="36" dy="-30">-5/3</tspan><tspan dy="30"> law</tspan></text>
</svg>
</body></html>
